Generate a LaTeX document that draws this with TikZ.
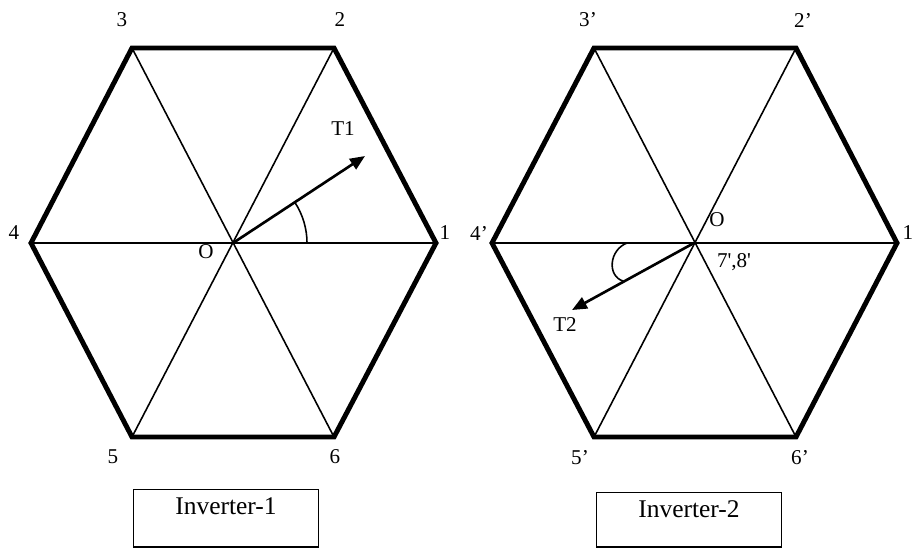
\documentclass[tikz,border=0pt]{standalone}
\usepackage{fontspec}
\setmainfont{Liberation Serif}
\usetikzlibrary{arrows.meta}

\begin{document}
\begin{tikzpicture}[x=0.02cm, y=-0.02cm,
  hexa/.style={line width=2.8pt, line join=miter},
  spoke/.style={line width=0.9pt},
  vec/.style={line width=1.5pt, -{Triangle[length=8.5pt,width=7pt]}},
  lbl/.style={font=\fontsize{12}{14}\selectfont, inner sep=1pt},
  invbox/.style={draw, line width=0.8pt, font=\fontsize{14.5}{16}\selectfont,
    minimum width=105.5pt, text height=10pt, inner ysep=4pt, inner xsep=0pt}]
\useasboundingbox (0,0) rectangle (912,548);
% inverter-1
\coordinate (o1) at (233,243);
\coordinate (a1) at (436,243);
\coordinate (a2) at (334,48);
\coordinate (a3) at (132,48);
\coordinate (a4) at (31,243);
\coordinate (a5) at (132,437);
\coordinate (a6) at (334,437);
\coordinate (t1) at (365,156);
\node[lbl] (la1) at (445,233) {1};
\node[lbl] (la2) at (340,20) {2};
\node[lbl] (la3) at (122,20) {3};
\node[lbl] (la4) at (14,233) {4};
\node[lbl] (la5) at (113,457) {5};
\node[lbl] (la6) at (335,457) {6};
\node[lbl] (lo1) at (206,252) {O};
\node[lbl] (lt1) at (343,129) {T1};
\draw[hexa] (a1) -- (a2) -- (a3) -- (a4) -- (a5) -- (a6) -- cycle;
\draw (a1) edge[spoke] (a4);
\draw (a2) edge[spoke] (a5);
\draw (a3) edge[spoke] (a6);
\draw[vec] (o1) -- (t1);
\draw[spoke] (307,243) arc[start angle=0, end angle=-33.4, radius=74];
\node[invbox, text depth=14.5pt] (inv1) at (226,489) [anchor=north] {Inverter-1};
% inverter-2
\coordinate (o2) at (694,243);
\coordinate (b1) at (897,243);
\coordinate (b2) at (796,48);
\coordinate (b3) at (594,48);
\coordinate (b4) at (492,243);
\coordinate (b5) at (594,437);
\coordinate (b6) at (796,437);
\coordinate (t2) at (572,310);
\node[lbl] (lb1) at (908,233) {1};
\node[lbl] (lb2) at (803,20) {2’};
\node[lbl] (lb3) at (588,20) {3’};
\node[lbl] (lb4) at (479,233) {4’};
\node[lbl] (lb5) at (580,458) {5’};
\node[lbl] (lb6) at (800,458) {6’};
\node[lbl] (lo2) at (717,220) {O};
\node[lbl] (lo2b) at (734,262) {7\textquotesingle,8\textquotesingle};
\node[lbl] (lt2) at (565,325) {T2};
\draw[hexa] (b1) -- (b2) -- (b3) -- (b4) -- (b5) -- (b6) -- cycle;
\draw (b1) edge[spoke] (b4);
\draw (b2) edge[spoke] (b5);
\draw (b3) edge[spoke] (b6);
\draw[vec] (o2) -- (t2);
\draw[spoke] (627,243) .. controls (609,250) and (607,276) .. (623,281);
\node[invbox, text depth=13pt] (inv2) at (689,492) [anchor=north] {Inverter-2};
\end{tikzpicture}
\end{document}
